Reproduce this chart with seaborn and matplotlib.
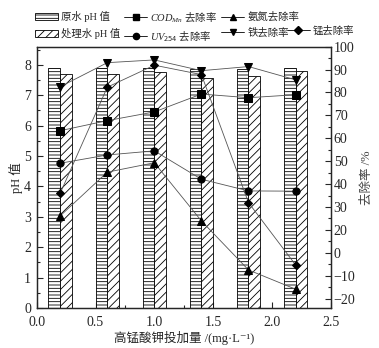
import numpy as np
import pandas as pd
import matplotlib
matplotlib.use("Agg")
import matplotlib.pyplot as plt
import seaborn as sns
from matplotlib.lines import Line2D
from matplotlib.patches import Patch
from matplotlib.ticker import MultipleLocator, FixedLocator

# ---------------- data ----------------
dose = [0.2, 0.6, 1.0, 1.4, 1.8, 2.2]
ph_raw = [7.90, 7.90, 7.90, 7.85, 7.88, 7.90]
ph_treated = [7.69, 7.69, 7.77, 7.57, 7.64, 7.80]

cod_removal = [63.3, 67.7, 71.5, 79.3, 77.7, 79.0]
uv_removal = [49.1, 52.7, 54.5, 42.1, 37.0, 36.9]
nh3_removal = [26.1, 45.2, 49.3, 23.9, 2.5, -5.9]
fe_removal = [82.5, 93.0, 94.2, 89.5, 91.3, 85.5]
mn_removal = [36.0, 82.3, 91.9, 87.8, 31.9, 4.7]

bar_labels = ["原水 pH 值", "处理水 pH 值"]
right_ticks = [100, 90, 80, 70, 60, 50, 40, 30, 20, 10, 0, -10]
right_ticklabels = ["100", "90", "80", "70", "60", "50", "40", "30", "20", "0", "\u221210", "\u221220"]
x_ticks = [0.0, 0.5, 1.0, 1.5, 2.0, 2.5]
left_ticks = [0, 1, 2, 3, 4, 5, 6, 7, 8]

# ---------------- style ----------------
sns.set_style("ticks")
FAM = ["Liberation Serif", "Noto Sans CJK SC", "DejaVu Sans"]
plt.rcParams["font.family"] = FAM
plt.rcParams["mathtext.fontset"] = "custom"
plt.rcParams["mathtext.rm"] = "Noto Sans CJK SC"
plt.rcParams["mathtext.it"] = "Liberation Serif:italic"
plt.rcParams["mathtext.bf"] = "Liberation Serif:bold"
plt.rcParams["hatch.linewidth"] = 0.6
plt.rcParams["axes.unicode_minus"] = True

fig = plt.figure(figsize=(3.79, 3.48), dpi=100)
ax = fig.add_axes([0.0968, 0.115, 0.873 - 0.0968, 0.866 - 0.115])

df = pd.DataFrame({
    "dose": dose * 2,
    "pH": ph_raw + ph_treated,
    "type": [bar_labels[0]] * len(dose) + [bar_labels[1]] * len(dose),
})
sns.barplot(data=df, x="dose", y="pH", hue="type", native_scale=True,
            width=0.5, palette=["white", "white"], edgecolor="black",
            linewidth=0.6, legend=False, ax=ax, errorbar=None)
hatches = ["-----", "////"]
for cont, h in zip(ax.containers, hatches):
    for p in cont:
        p.set_hatch(h)
        p.set_facecolor("white")
        p.set_edgecolor("black")
        p.set_linewidth(0.6)

ax.set_xlim(0, 2.5)
ax.set_ylim(0, 8.6)
ax.set_xticks(x_ticks)
ax.set_xticklabels([f"{v:.1f}" for v in x_ticks])
ax.xaxis.set_minor_locator(MultipleLocator(0.25))
ax.set_yticks(left_ticks)
ax.yaxis.set_minor_locator(MultipleLocator(0.5))
ax.tick_params(direction="in", which="both", labelsize=10, width=0.8)
ax.tick_params(which="major", length=4)
ax.tick_params(which="minor", length=2)
ax.tick_params(axis="x", pad=6)
ax.tick_params(axis="y", pad=4)
ax.set_xlabel("高锰酸钾投加量 /(mg·L⁻¹)", fontsize=9, labelpad=1)
ax.set_ylabel("pH 值", fontsize=9, labelpad=1)
for s in ax.spines.values():
    s.set_linewidth(0.9)

ax2 = ax.twinx()
series = [
    (cod_removal, "s", r"$COD_{Mn}\ \mathrm{去除率}$"),
    (uv_removal, "o", r"$UV_{254}\ \mathrm{去除率}$"),
    (nh3_removal, "^", "氨氮去除率"),
    (fe_removal, "v", "铁去除率"),
    (mn_removal, "D", "锰去除率"),
]
for vals, mk, lab in series:
    sns.lineplot(x=dose, y=vals, marker=mk, color="#555555", lw=0.6,
                 markersize=5.2 if mk != "D" else 4.3, markerfacecolor="black",
                 markeredgecolor="black", ax=ax2, legend=False)

ax2.set_ylim(100 - (308 - 46.7) / 2.29, 100)
ax2.yaxis.set_major_locator(FixedLocator(right_ticks))
ax2.set_yticklabels(right_ticklabels)
ax2.yaxis.set_minor_locator(MultipleLocator(5))
ax2.tick_params(direction="in", which="both", labelsize=10, width=0.8, pad=2)
ax2.tick_params(which="major", length=4)
ax2.tick_params(which="minor", length=2)
ax2.set_ylabel("去除率 /%", fontsize=9, color="#444444", labelpad=4)
for s in ax2.spines.values():
    s.set_linewidth(0.9)

# ---------------- legend ----------------
bar_handles = [Patch(facecolor="white", edgecolor="black", hatch=h, linewidth=0.6)
               for h in hatches]
line_handles = [Line2D([0], [0], color="black", lw=0.6, marker=mk,
                       markersize=4.5 if mk != "D" else 3.8, markerfacecolor="black")
                for _, mk, _ in series]
line_labels = [lab for _, _, lab in series]

handles = [bar_handles[0], bar_handles[1], line_handles[0], line_handles[1],
           line_handles[2], line_handles[3]]
labels = [bar_labels[0], bar_labels[1], line_labels[0], line_labels[1],
          line_labels[2], line_labels[3]]
leg = fig.legend(handles, labels, ncol=3, loc="upper left",
                 bbox_to_anchor=(0.075, 0.99), frameon=False, fontsize=7.5,
                 handlelength=2.2, handletextpad=0.3, columnspacing=0.4,
                 labelspacing=0.55, borderaxespad=0.2)
leg2 = fig.legend([line_handles[4]], [line_labels[4]], loc="upper left",
                  bbox_to_anchor=(0.74, 0.945), frameon=False, fontsize=7.5,
                  handlelength=2.2, handletextpad=0.3, borderaxespad=0.2)

fig.savefig("out.png", dpi=100)
